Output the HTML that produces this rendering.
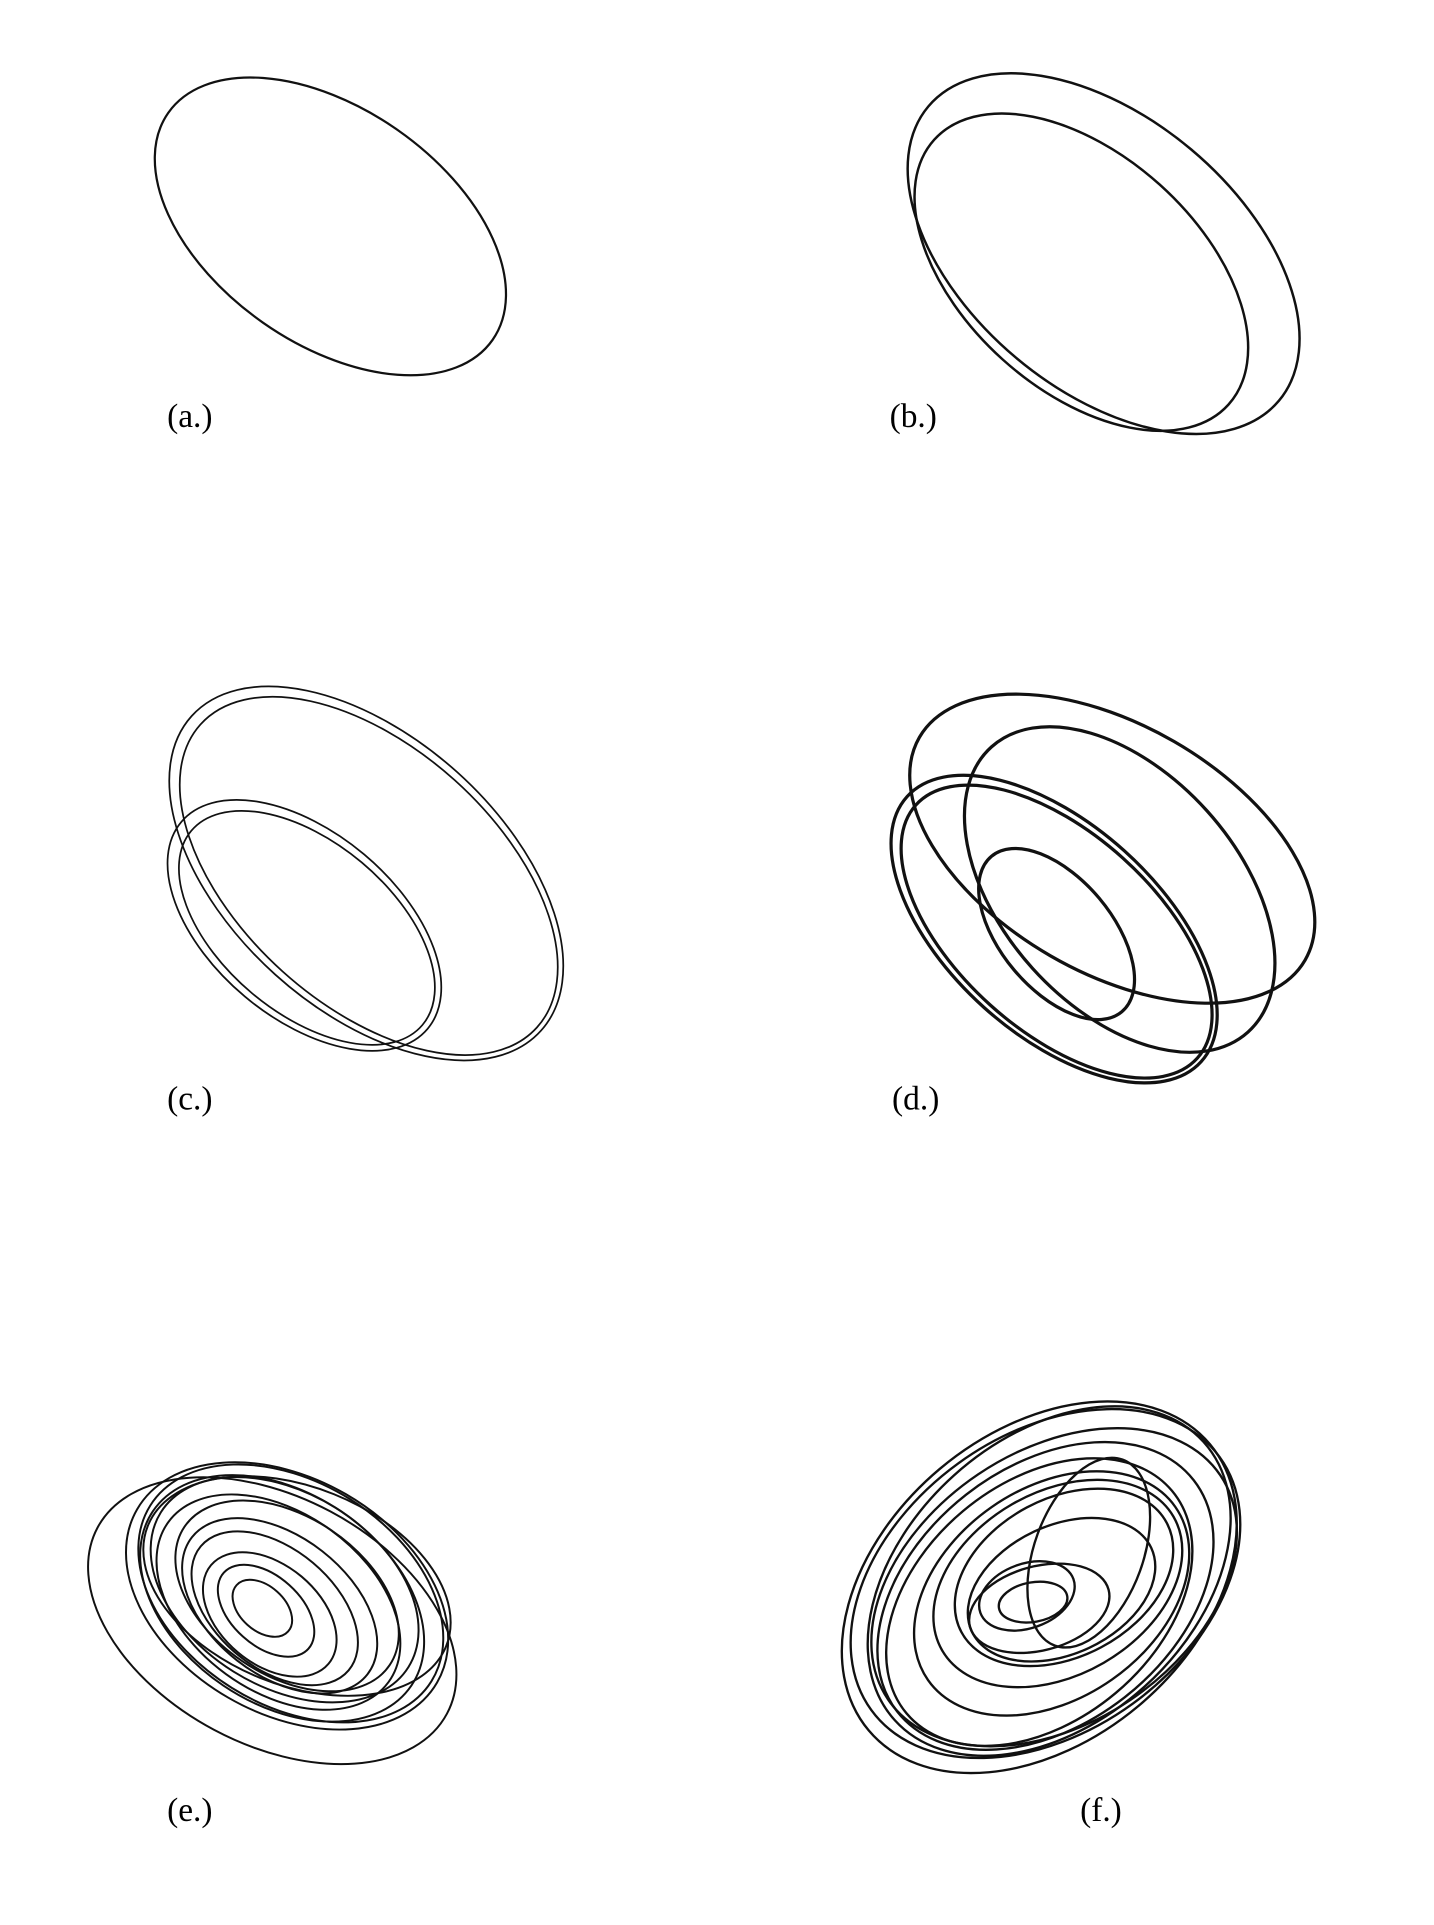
<!DOCTYPE html>
<html><head><meta charset="utf-8"><style>
html,body{margin:0;padding:0;background:#fff;}
svg{display:block;}
text{font-family:"Liberation Serif",serif;font-size:27px;fill:#000;}
</style></head><body>
<svg id="fig" width="1434" height="1925" viewBox="0 0 1159 1556" xmlns="http://www.w3.org/2000/svg">
<g id="labels">
<text x="135" y="345">(a.)</text>
<text x="719" y="345">(b.)</text>
<text x="135" y="897">(c.)</text>
<text x="721" y="897">(d.)</text>
<text x="135" y="1472">(e.)</text>
<text x="873" y="1472">(f.)</text>
</g>
</svg>
<script>
// orbit loops per panel: centre x, centre y, semi-major, semi-minor, rotation (deg)
const panelA_cx=[267], panelA_cy=[183], panelA_rx=[160], panelA_ry=[95], panelA_rot=[35];
const panelB_cx=[892,874], panelB_cy=[205,220], panelB_rx=[185,160], panelB_ry=[110,95], panelB_rot=[40,42];
const panelC_cx=[296,298,246,248], panelC_cy=[706,708,748,750], panelC_rx=[190,183,130,122], panelC_ry=[110,104,75,69], panelC_rot=[42,42,40,40];
const panelD_cx=[899,905,852,854,854], panelD_cy=[686,719,751,753,755], panelD_rx=[180,155,160,153,82], panelD_ry=[100,95,85,80,45], panelD_rot=[30,48,42,42,50];
const panelE_cx=[220,232,235,228,230,225,232,226,222,218,215,212,240], panelE_cy=[1310,1290,1288,1292,1285,1295,1290,1298,1300,1305,1302,1300,1282], panelE_rx=[160,140,134,126,118,110,100,90,78,62,46,28,130], panelE_ry=[100,95,90,85,78,72,64,56,48,40,28,18,80], panelE_rot=[28,30,32,34,32,36,34,38,40,40,42,42,22];
const panelF_cx=[840,845,848,852,845,840,850,855,860,858,830,840,880,835], panelF_cy=[1283,1280,1278,1283,1290,1295,1288,1280,1275,1285,1290,1300,1255,1295], panelF_rx=[180,174,168,162,152,140,122,108,94,80,40,58,80,28], panelF_ry=[125,120,115,110,104,96,85,74,64,52,26,34,44,16], panelF_rot=[-40,-36,-42,-34,-38,-40,-35,-30,-28,-25,-20,-15,-70,-10];
const panels=[
 ['a',panelA_cx,panelA_cy,panelA_rx,panelA_ry,panelA_rot,1.8],
 ['b',panelB_cx,panelB_cy,panelB_rx,panelB_ry,panelB_rot,2.0],
 ['c',panelC_cx,panelC_cy,panelC_rx,panelC_ry,panelC_rot,1.4],
 ['d',panelD_cx,panelD_cy,panelD_rx,panelD_ry,panelD_rot,2.6],
 ['e',panelE_cx,panelE_cy,panelE_rx,panelE_ry,panelE_rot,1.6],
 ['f',panelF_cx,panelF_cy,panelF_rx,panelF_ry,panelF_rot,1.9]
];
const svg=document.getElementById('fig');
const NS='http://www.w3.org/2000/svg';
panels.forEach(p=>{
 const g=document.createElementNS(NS,'g');
 
 
 for(let i=0;i<p[1].length;i++){
  const e=document.createElementNS(NS,'ellipse');
  const rot=p[5][i];
  e.setAttribute('cx',p[1][i]);e.setAttribute('cy',p[2][i]);
  e.setAttribute('rx',p[3][i]);e.setAttribute('ry',p[4][i]);
  e.setAttribute('transform','rotate('+rot+' '+p[1][i]+' '+p[2][i]+')');
  e.setAttribute('fill','none');e.setAttribute('stroke','#111');
  e.setAttribute('stroke-width',p[6]);
  
  
  g.appendChild(e);
 }
 svg.appendChild(g);
});
</script>
</body></html>
